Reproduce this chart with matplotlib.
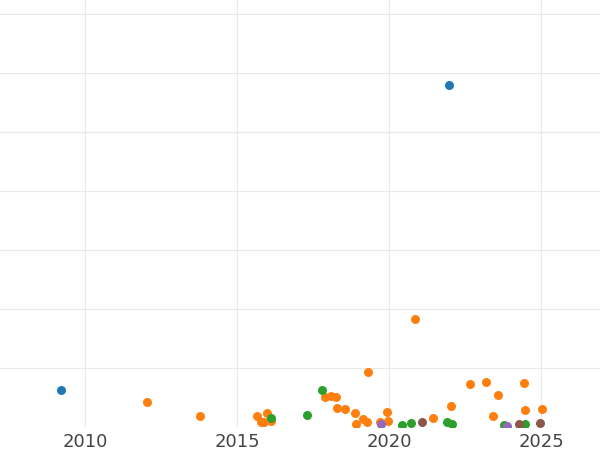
import matplotlib
matplotlib.use("Agg")
import matplotlib.pyplot as plt

blue_x = [2009.2, 2021.97]
blue_y = [0.63, 5.8]
orange_x = [2012.04, 2013.78, 2015.65, 2015.79, 2015.88, 2016.0, 2016.1, 2017.9, 2018.1, 2018.25,
            2018.3, 2018.55, 2018.88, 2018.9, 2019.14, 2019.27, 2019.3, 2019.7, 2019.93, 2019.96,
            2020.85, 2021.44, 2022.04, 2022.66, 2023.19, 2023.42, 2023.58, 2024.44, 2024.47, 2025.03]
orange_y = [0.42, 0.19, 0.19, 0.08, 0.08, 0.24, 0.1, 0.51, 0.53, 0.51,
            0.32, 0.3, 0.24, 0.05, 0.14, 0.08, 0.93, 0.08, 0.25, 0.1,
            1.83, 0.15, 0.36, 0.73, 0.76, 0.19, 0.54, 0.75, 0.29, 0.31]
green_x = [2016.1, 2017.3, 2017.79, 2020.42, 2020.72, 2021.9, 2022.07, 2023.78, 2024.47]
green_y = [0.15, 0.2, 0.63, 0.03, 0.07, 0.08, 0.05, 0.03, 0.05]
purple_x = [2019.73, 2023.88]
purple_y = [0.05, 0.02]
brown_x = [2021.08, 2024.27, 2024.96]
brown_y = [0.08, 0.05, 0.07]

fig = plt.figure(figsize=(6, 4.5), dpi=100)
ax = fig.add_axes([0, 0.051, 1, 0.949])
for xs, ys, c in [(blue_x, blue_y, "#1f77b4"), (orange_x, orange_y, "#ff7f0e"),
                  (green_x, green_y, "#2ca02c"), (purple_x, purple_y, "#9467bd"),
                  (brown_x, brown_y, "#8c564b")]:
    ax.scatter(xs, ys, s=42, color=c, zorder=3, linewidths=0)
ax.set_xlim(2007.2, 2026.94)
ax.set_ylim(0, 7.24)
ax.set_xticks([2010, 2015, 2020, 2025])
ax.set_yticks([1, 2, 3, 4, 5, 6, 7])
ax.set_yticklabels([])
ax.tick_params(axis="y", length=0)
ax.tick_params(axis="x", length=0, labelsize=13, colors="#444444", pad=4)
ax.grid(True, color="#e8e8e8", linewidth=0.8)
for s in ax.spines.values():
    s.set_visible(False)
fig.savefig("out.png")
